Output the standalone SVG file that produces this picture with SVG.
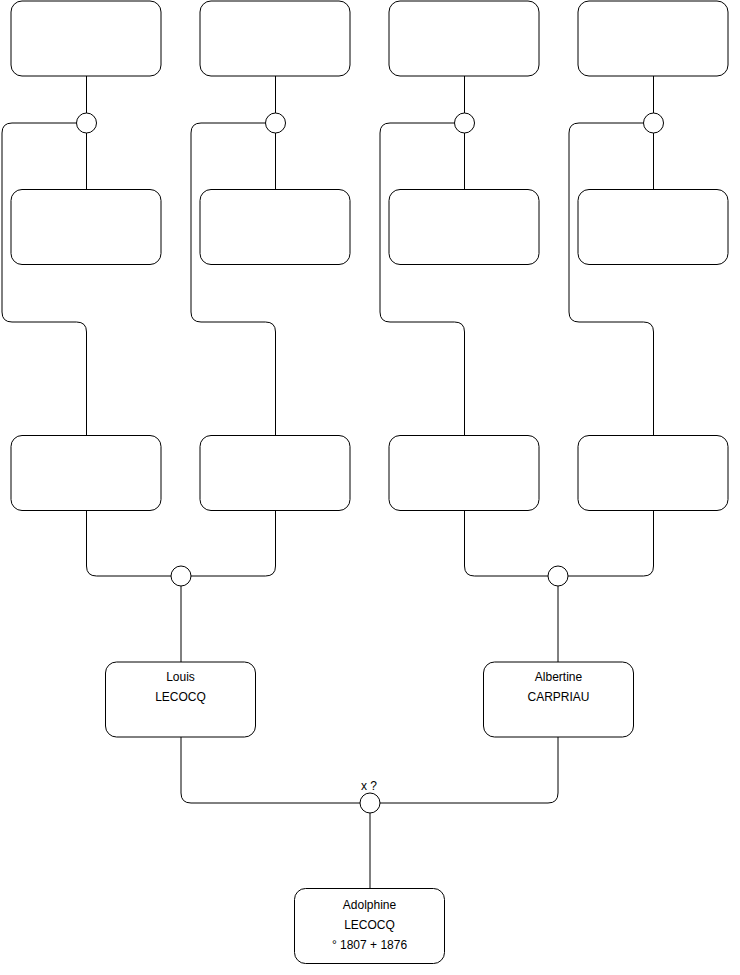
<svg xmlns="http://www.w3.org/2000/svg" width="740" height="975" viewBox="0 0 740 975">
<style>
.box{fill:#fff;stroke:#000;stroke-width:1}
.c{fill:#fff;stroke:#000;stroke-width:1}
.ln{fill:none;stroke:#000;stroke-width:1}
text{font-family:"Liberation Sans",Arial,Helvetica,sans-serif;font-size:12px;fill:#000;text-anchor:middle}
</style>
<rect width="740" height="975" fill="#fff"/>
<g id="connectors">
<path class="ln" d="M86.5 76V113M86.5 133V189M76.5 123H12Q2 123 2 133V312Q2 322 12 322H76.5Q86.5 322 86.5 332V435"/>
<path class="ln" d="M275.5 76V113M275.5 133V189M265.5 123H201Q191 123 191 133V312Q191 322 201 322H265.5Q275.5 322 275.5 332V435"/>
<path class="ln" d="M464.5 76V113M464.5 133V189M454.5 123H390Q380 123 380 133V312Q380 322 390 322H454.5Q464.5 322 464.5 332V435"/>
<path class="ln" d="M653.5 76V113M653.5 133V189M643.5 123H579Q569 123 569 133V312Q569 322 579 322H643.5Q653.5 322 653.5 332V435"/>
<path class="ln" d="M86.5 511V566Q86.5 576 96.5 576H171M275.5 511V566Q275.5 576 265.5 576H191M181 586V662"/>
<path class="ln" d="M464.5 511V566Q464.5 576 474.5 576H548M653.5 511V566Q653.5 576 643.5 576H568M558 586V662"/>
<path class="ln" d="M181 737V793Q181 803 191 803H360M558 737V793Q558 803 548 803H380M370 813V888"/>
</g>
<g id="n1"><rect class="box" x="11" y="1" width="150" height="75" rx="11"/></g>
<g id="n2"><rect class="box" x="200" y="1" width="150" height="75" rx="11"/></g>
<g id="n3"><rect class="box" x="389" y="1" width="150" height="75" rx="11"/></g>
<g id="n4"><rect class="box" x="578" y="1" width="150" height="75" rx="11"/></g>
<g id="j1"><circle class="c" cx="86.5" cy="123" r="10"/></g>
<g id="j2"><circle class="c" cx="275.5" cy="123" r="10"/></g>
<g id="j3"><circle class="c" cx="464.5" cy="123" r="10"/></g>
<g id="j4"><circle class="c" cx="653.5" cy="123" r="10"/></g>
<g id="n5"><rect class="box" x="11" y="189.5" width="150" height="75" rx="11"/></g>
<g id="n6"><rect class="box" x="200" y="189.5" width="150" height="75" rx="11"/></g>
<g id="n7"><rect class="box" x="389" y="189.5" width="150" height="75" rx="11"/></g>
<g id="n8"><rect class="box" x="578" y="189.5" width="150" height="75" rx="11"/></g>
<g id="n9"><rect class="box" x="11" y="435.5" width="150" height="75" rx="11"/></g>
<g id="n10"><rect class="box" x="200" y="435.5" width="150" height="75" rx="11"/></g>
<g id="n11"><rect class="box" x="389" y="435.5" width="150" height="75" rx="11"/></g>
<g id="n12"><rect class="box" x="578" y="435.5" width="150" height="75" rx="11"/></g>
<g id="j5"><circle class="c" cx="181" cy="576" r="10"/></g>
<g id="j6"><circle class="c" cx="558" cy="576" r="10"/></g>
<g id="louis"><rect class="box" x="105.5" y="662" width="150" height="75" rx="11"/>
<text x="180.5" y="681">Louis</text><text x="180.5" y="701">LECOCQ</text></g>
<g id="albertine"><rect class="box" x="483.5" y="662" width="150" height="75" rx="11"/>
<text x="558.5" y="681">Albertine</text><text x="558.5" y="701">CARPRIAU</text></g>
<g id="j7"><circle class="c" cx="370" cy="803" r="10"/><text x="369" y="790">x ?</text></g>
<g id="adolphine"><rect class="box" x="294.5" y="888.5" width="150" height="75" rx="11"/>
<text x="369.5" y="909">Adolphine</text><text x="369.5" y="929">LECOCQ</text><text x="369.5" y="949">° 1807 + 1876</text></g>
</svg>
